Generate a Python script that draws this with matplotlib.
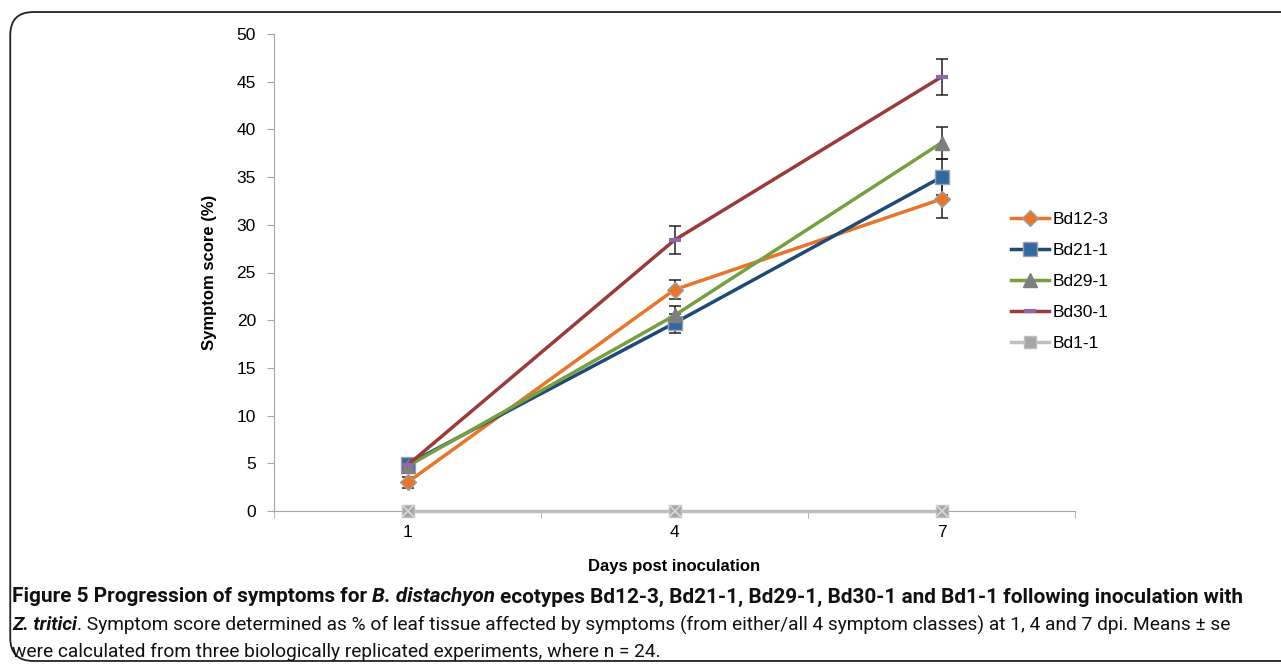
import matplotlib.pyplot as plt
from matplotlib.patches import FancyBboxPatch
from matplotlib import font_manager

# data
dias = ['1', '4', '7']
series = ['Bd12-3', 'Bd21-1', 'Bd29-1', 'Bd30-1', 'Bd1-1']
bd12_3 = [3.0, 23.2, 32.7]
bd12_3_se = [0.6, 1.0, 2.0]
bd21_1 = [4.9, 19.7, 35.0]
bd21_1_se = [0.5, 1.0, 1.9]
bd29_1 = [4.7, 20.5, 38.6]
bd29_1_se = [0.5, 0.95, 1.7]
bd30_1 = [4.8, 28.4, 45.5]
bd30_1_se = [0.5, 1.5, 1.9]
bd1_1 = [0, 0, 0]

plt.rcParams['font.family'] = ['Liberation Sans', 'DejaVu Sans']

fig = plt.figure(figsize=(12.81, 6.69), dpi=100)

# moldura arredondada
moldura = FancyBboxPatch((0.008, 0.012), 1.05, 0.97, boxstyle='round,pad=0,rounding_size=0.018',
                         transform=fig.transFigure, fill=False, edgecolor='#222222', lw=1.3,
                         mutation_aspect=1281 / 669)
fig.patches.append(moldura)

ax = fig.add_axes([274 / 1281, 1 - 511 / 669, 801 / 1281, 477 / 669])
x = [0, 1, 2]

# erro
ebkw = dict(fmt='none', ecolor='#222222', elinewidth=1.1, capsize=4, capthick=1.1, zorder=2)
for vals, se in [(bd12_3, bd12_3_se), (bd21_1, bd21_1_se), (bd29_1, bd29_1_se), (bd30_1, bd30_1_se)]:
    ax.errorbar(x, vals, yerr=se, **ebkw)

l5, = ax.plot(x, bd1_1, color='#BFBFBF', lw=2.5, marker='s', ms=9, mfc='#A6A6A6', mec='#BFBFBF',
              zorder=3, clip_on=False)
ax.plot(x, bd1_1, ls='none', marker='x', ms=8, mec='#D9D9D9', mew=1.2, zorder=4, clip_on=False)
l1, = ax.plot(x, bd12_3, color='#E8752A', lw=2.5, marker='D', ms=8, mfc='#E8752A', mec='#A0A0A0', zorder=5)
l2, = ax.plot(x, bd21_1, color='#1F4A78', lw=2.5, marker='s', ms=10, mfc='#3068A3', mec='#A0A0A0', zorder=5)
l3, = ax.plot(x, bd29_1, color='#76A03F', lw=2.5, marker='^', ms=10, mfc='#7F7F7F', mec='#7F7F7F', zorder=5)
l4, = ax.plot(x, bd30_1, color='#9B3A3A', lw=2.5, marker='_', ms=9, mew=3, mec='#8A6AA8', zorder=5)

ax.set_xlim(-0.5, 2.5)
ax.set_ylim(0, 50)
ax.set_yticks(range(0, 51, 5))
ax.set_xticks(x)
ax.set_xticklabels(dias)
ax.set_xticks([-0.5, 0.5, 1.5, 2.5], minor=True)
ax.tick_params(axis='x', which='major', length=0, labelsize=12.5, pad=10)
ax.tick_params(axis='x', which='minor', length=5, color='#A6A6A6')
ax.tick_params(axis='y', length=5, color='#A6A6A6', labelsize=12.5, pad=8)
for s in ['top', 'right']:
    ax.spines[s].set_visible(False)
for s in ['left', 'bottom']:
    ax.spines[s].set_color('#A6A6A6')

ax.set_ylabel('Symptom score (%)', fontsize=12, fontweight='bold', labelpad=14)
ax.set_xlabel('Days post inoculation', fontsize=12, fontweight='bold', labelpad=14)

ax.legend([l1, l2, l3, l4, l5], series, loc='upper left', bbox_to_anchor=(0.9, 0.66),
          frameon=False, fontsize=12.5, handlelength=2.2, labelspacing=0.92, handletextpad=0.2)

# legenda da figura (texto em partes: negrito / itálico)
nomes = [f.name for f in font_manager.fontManager.ttflist]
cap_font = 'Roboto' if 'Roboto' in nomes else 'Liberation Sans'

linhas = [
    [('Figure 5 Progression of symptoms for ', 'bold', 'normal'),
     ('B. distachyon', 'bold', 'italic'),
     (' ecotypes Bd12-3, Bd21-1, Bd29-1, Bd30-1 and Bd1-1 following inoculation with', 'bold', 'normal')],
    [('Z. tritici', 'bold', 'italic'),
     ('. Symptom score determined as % of leaf tissue affected by symptoms (from either/all 4 symptom classes) '
      'at 1, 4 and 7 dpi. Means ± se', 'normal', 'normal')],
    [('were calculated from three biologically replicated experiments, where n = 24.', 'normal', 'normal')],
]
ys = [597, 625, 652]
x0, x1 = 12, 1240

renderer = fig.canvas.get_renderer()


def largura(partes, tam):
    w = 0
    for txt, peso, estilo in partes:
        t = fig.text(0, 0, txt, fontsize=tam, fontweight=peso, style=estilo, family=cap_font)
        w += t.get_window_extent(renderer).width
        t.remove()
    return w


tam = 13.0
w1 = largura(linhas[0], tam)
tam = tam * (x1 - x0) / w1
tam2 = min(tam, tam * (1236 - x0) / largura(linhas[1], tam))

for partes, yp, fs in zip(linhas, ys, [tam, tam2, tam2]):
    xp = x0
    for txt, peso, estilo in partes:
        t = fig.text(xp / 1281, 1 - yp / 669, txt, fontsize=fs, fontweight=peso, style=estilo,
                     family=cap_font, va='center', color='#111111')
        xp += t.get_window_extent(renderer).width

fig.savefig('out.png', dpi=100)
